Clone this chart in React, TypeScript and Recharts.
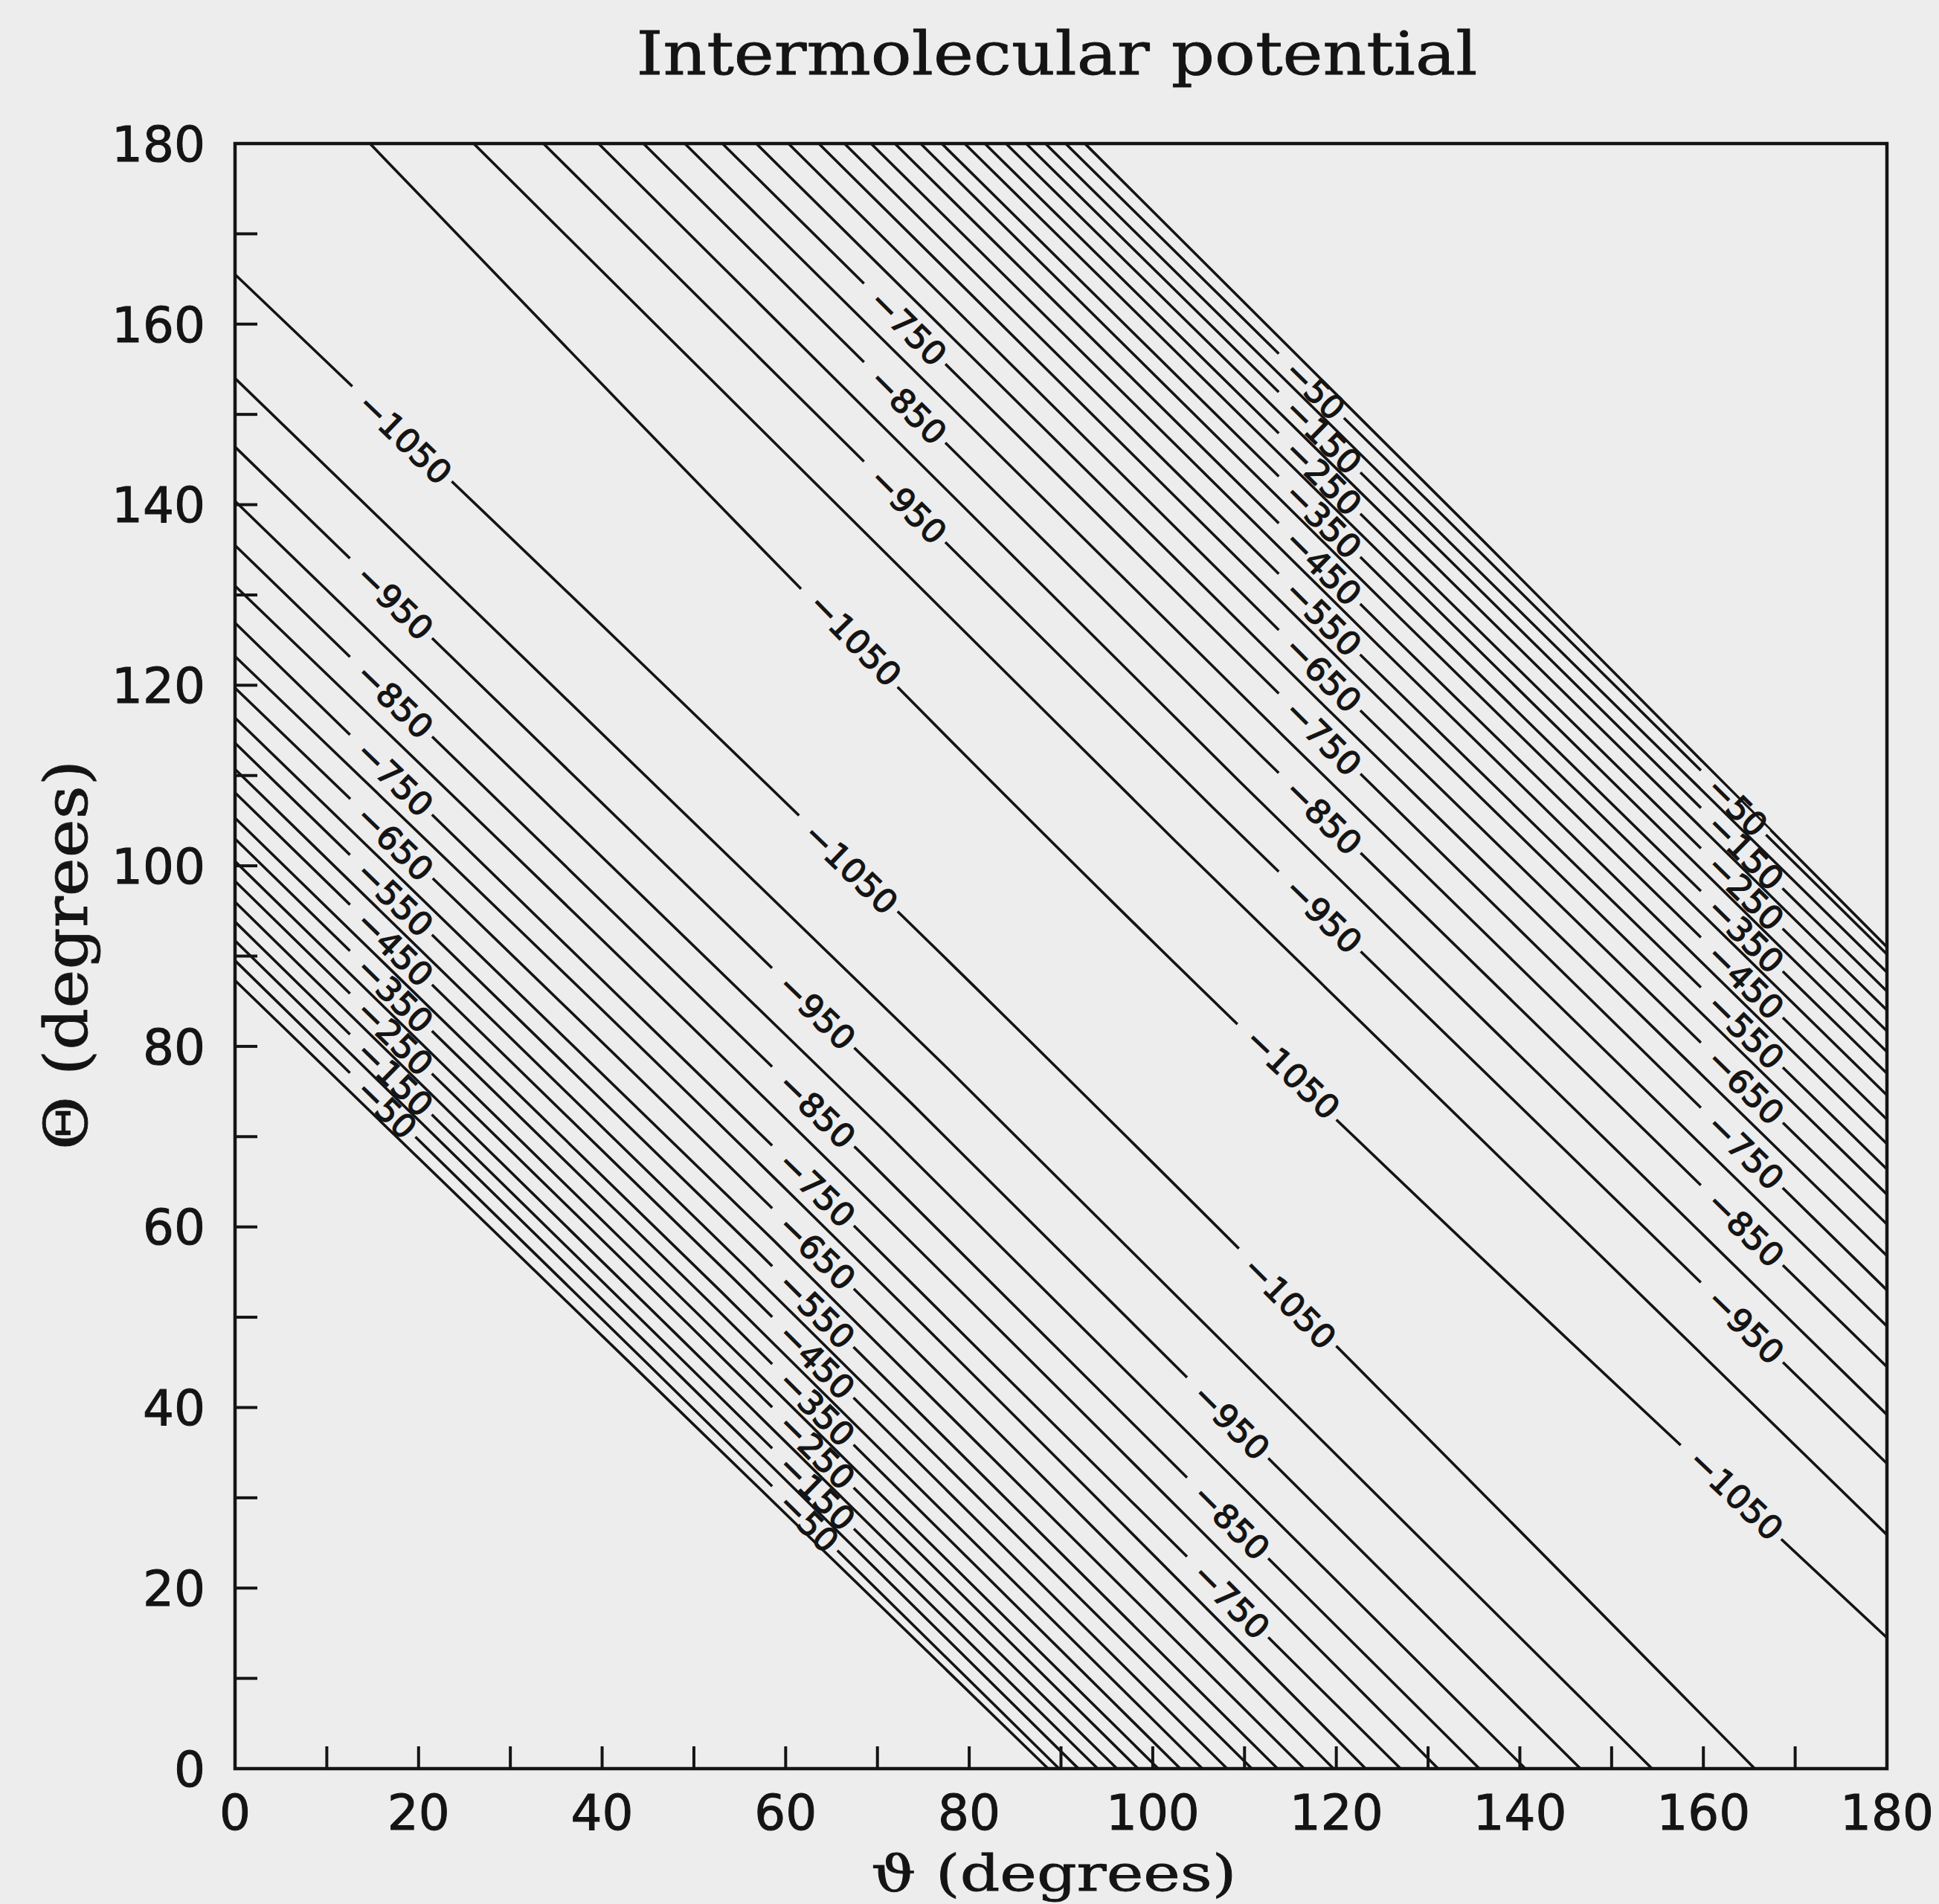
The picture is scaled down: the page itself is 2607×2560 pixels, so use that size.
import React from "react";
import { ComposedChart, Line, Scatter, XAxis, YAxis, ReferenceArea } from "recharts";

const BG = "#ededed";
const INK = "#141414";

// contour levels, outer (0) to inner (-1050)
const levels = [0, -50, -100, -150, -200, -250, -300, -350, -400, -450, -500, -550, -600, -650, -700, -750, -800, -850, -900, -950, -1000, -1050];

// lower wall: enters on the left edge (theta = 0), crosses the diagonal, leaves on the bottom edge (Theta = 0)
const lowerLeftEdge = [87.3, 89.5, 91.7, 93.8, 96.0, 98.3, 100.5, 103.0, 105.3, 108.1, 110.7, 113.6, 116.4, 119.7, 123.2, 126.9, 131.0, 135.5, 140.4, 146.4, 154.0, 165.5];
const lowerDiagonal = [44.0, 44.9, 46.0, 47.0, 48.1, 49.3, 50.4, 51.7, 52.9, 54.3, 55.6, 57.1, 58.6, 60.3, 62.1, 63.8, 66.0, 68.2, 70.7, 73.7, 77.6, 83.6];
const lowerBottomEdge = [88.6, 89.8, 91.9, 94.0, 96.1, 98.4, 100.6, 103.0, 105.4, 108.1, 110.8, 113.6, 116.5, 119.7, 123.2, 127.0, 131.1, 135.6, 140.6, 146.6, 154.4, 165.6];

// upper wall: enters on the top edge (Theta = 180), crosses the diagonal, leaves on the right edge (theta = 180)
const upperTopEdge = [92.6, 90.5, 88.3, 86.2, 84.0, 81.7, 79.5, 77.0, 74.7, 71.9, 69.3, 66.4, 63.6, 60.3, 56.8, 53.1, 49.0, 44.5, 39.6, 33.6, 26.0, 14.7];
const upperDiagonal = [136.0, 135.2, 134.1, 133.1, 132.0, 130.8, 129.7, 128.4, 127.2, 125.8, 124.5, 123.0, 121.6, 119.9, 118.2, 116.4, 114.3, 112.0, 109.4, 106.5, 102.6, 95.8];
const upperRightEdge = [91.0, 90.2, 88.2, 86.1, 84.0, 81.7, 79.4, 77.0, 74.6, 71.9, 69.2, 66.4, 63.6, 60.3, 56.8, 53.0, 49.0, 44.5, 39.2, 33.8, 25.9, 14.5];

// labelled levels and where each label starts (theta), null = no label there
const labelLevels = [-50, -150, -250, -350, -450, -550, -650, -750, -850, -950, -1050];
const lowerLabelA = [13.8, 13.8, 13.8, 13.8, 13.8, 13.8, 13.8, 13.8, 13.8, 13.8, 14.0];
const lowerLabelB = [59.8, 59.8, 59.8, 59.8, 59.8, 59.8, 59.8, 59.8, 59.8, 59.8, 62.6];
const lowerLabelC = [null, null, null, null, null, null, null, 105.0, 105.0, 105.0, 110.5];
const upperLabelB = [null, null, null, null, null, null, null, 69.8, 69.8, 69.8, 63.2];
const upperLabelC = [115.0, 115.0, 115.0, 115.0, 115.0, 115.0, 115.0, 115.0, 115.0, 115.0, 110.7];
const upperLabelD = [161.0, 161.0, 161.0, 161.0, 161.0, 161.0, 161.0, 161.0, 161.0, 161.0, 159.0];

const axisTicks = [0, 10, 20, 30, 40, 50, 60, 70, 80, 90, 100, 110, 120, 130, 140, 150, 160, 170, 180];

// plot box in page pixels
const LEFT = 316;
const TOP = 193;
const PW = 2221;
const PH = 2185;
const PX = PW / 180;
const PY = PH / 180;

type Pt = { x: number; y: number };

const lowerLines: Pt[][] = levels.map((_, i) => [
  { x: 0, y: lowerLeftEdge[i] },
  { x: lowerDiagonal[i], y: lowerDiagonal[i] },
  { x: lowerBottomEdge[i], y: 0 },
]);
const upperLines: Pt[][] = levels.map((_, i) => [
  { x: upperTopEdge[i], y: 180 },
  { x: upperDiagonal[i], y: upperDiagonal[i] },
  { x: 180, y: upperRightEdge[i] },
]);

// position and direction of a contour at a given theta
function onLine(pts: Pt[], t: number) {
  for (let k = 0; k < pts.length - 1; k++) {
    const a = pts[k];
    const b = pts[k + 1];
    if (t >= a.x && t <= b.x) {
      const f = (t - a.x) / (b.x - a.x);
      const ang = (Math.atan2(-(b.y - a.y) * PY, (b.x - a.x) * PX) * 180) / Math.PI;
      return { y: a.y + f * (b.y - a.y), angle: ang };
    }
  }
  return null;
}

const labels: any[] = [];
const addLabels = (lines: Pt[][], starts: (number | null)[]) => {
  starts.forEach((s, j) => {
    if (s == null) return;
    const lv = labelLevels[j];
    const idx = levels.indexOf(lv);
    const pos = onLine(lines[idx], s);
    if (!pos) return;
    const text = "\u2212" + Math.abs(lv);
    labels.push({ x: s, y: pos.y, angle: pos.angle, text, len: text.length * 31 });
  });
};
addLabels(lowerLines, lowerLabelA);
addLabels(lowerLines, lowerLabelB);
addLabels(lowerLines, lowerLabelC);
addLabels(upperLines, upperLabelB);
addLabels(upperLines, upperLabelC);
addLabels(upperLines, upperLabelD);

const ContourLabel = (props: any) => {
  const { cx, cy } = props;
  const p = props.payload || props;
  if (cx == null || cy == null) return null;
  return (
    <g transform={`translate(${cx},${cy}) rotate(${p.angle})`}>
      <rect x={-22} y={-8} width={p.len + 30} height={16} fill={BG} />
      <text
        x={0}
        y={0}
        dy="0.36em"
        fontFamily="DejaVu Sans"
        fontSize={44}
        textLength={p.len}
        lengthAdjust="spacingAndGlyphs"
        fill={INK}
        stroke={INK}
        strokeWidth={1.3}
      >
        {p.text}
      </text>
    </g>
  );
};

const XTick = (props: any) => {
  const { x, y, payload } = props;
  const v = payload.value;
  return (
    <g>
      <line x1={x} y1={y} x2={x} y2={y - 30} stroke={INK} strokeWidth={4} />
      {v % 20 === 0 && (
        <text x={x} y={y + 82} textAnchor="middle" fontFamily="DejaVu Sans" fontSize={66} fill={INK} stroke={INK} strokeWidth={1}>
          {v}
        </text>
      )}
    </g>
  );
};

const YTick = (props: any) => {
  const { x, y, payload } = props;
  const v = payload.value;
  return (
    <g>
      <line x1={x} y1={y} x2={x + 30} y2={y} stroke={INK} strokeWidth={4} />
      {v % 20 === 0 && (
        <text x={x - 40} y={y} dy="0.36em" textAnchor="end" fontFamily="DejaVu Sans" fontSize={66} fill={INK} stroke={INK} strokeWidth={1}>
          {v}
        </text>
      )}
    </g>
  );
};

export default function App() {
  return (
    <div style={{ position: "absolute", left: 0, top: 0, width: 2607, height: 2560, background: BG, overflow: "hidden" }}>
      <ComposedChart
        width={2607}
        height={2560}
        margin={{ top: TOP, right: 2607 - LEFT - PW, bottom: 2560 - TOP - PH - 100, left: LEFT - 100 }}
      >
        <XAxis
          dataKey="x"
          type="number"
          domain={[0, 180]}
          ticks={axisTicks}
          interval={0}
          height={100}
          axisLine={false}
          tickLine={false}
          tickSize={0}
          tickMargin={0}
          tick={<XTick />}
        />
        <YAxis
          dataKey="y"
          type="number"
          domain={[0, 180]}
          ticks={axisTicks}
          interval={0}
          width={100}
          axisLine={false}
          tickLine={false}
          tickSize={0}
          tickMargin={0}
          tick={<YTick />}
        />
        <ReferenceArea x1={0} x2={180} y1={0} y2={180} fill="none" stroke={INK} strokeWidth={4.5} />
        {lowerLines.map((pts, i) => (
          <Line
            key={"lo" + i}
            data={pts}
            dataKey="y"
            type="monotone"
            stroke={INK}
            strokeWidth={3.6}
            dot={false}
            activeDot={false}
            isAnimationActive={false}
          />
        ))}
        {upperLines.map((pts, i) => (
          <Line
            key={"up" + i}
            data={pts}
            dataKey="y"
            type="monotone"
            stroke={INK}
            strokeWidth={3.6}
            dot={false}
            activeDot={false}
            isAnimationActive={false}
          />
        ))}
        <Scatter data={labels} dataKey="y" shape={<ContourLabel />} isAnimationActive={false} />
      </ComposedChart>
      <svg width={2607} height={2560} style={{ position: "absolute", left: 0, top: 0, pointerEvents: "none" }}>
        <text x={1421} y={100} textAnchor="middle" fontFamily="DejaVu Serif" fontSize={80} textLength={1131} lengthAdjust="spacingAndGlyphs" fill={INK} stroke={INK} strokeWidth={0.8}>
          Intermolecular potential
        </text>
        <text x={1417} y={2542} textAnchor="middle" fontFamily="DejaVu Serif" fontSize={68} textLength={491} lengthAdjust="spacingAndGlyphs" fill={INK} stroke={INK} strokeWidth={0.8}>
          {"\u03D1 (degrees)"}
        </text>
        <text
          x={0}
          y={0}
          transform="translate(117,1284) rotate(-90)"
          textAnchor="middle"
          fontFamily="DejaVu Serif"
          fontSize={80}
          textLength={524}
          lengthAdjust="spacingAndGlyphs"
          fill={INK}
          stroke={INK}
          strokeWidth={0.8}
        >
          {"\u0398 (degrees)"}
        </text>
      </svg>
    </div>
  );
}
